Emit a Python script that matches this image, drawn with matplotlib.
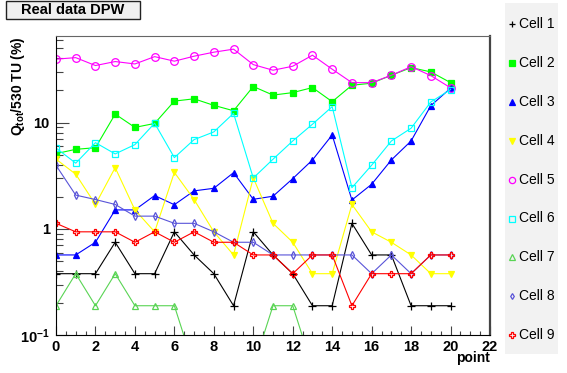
import numpy as np
import matplotlib
matplotlib.use("Agg")
import matplotlib.pyplot as plt
from matplotlib.patches import Rectangle
from matplotlib.ticker import FixedLocator, FixedFormatter, MultipleLocator, LogLocator, NullFormatter

plt.rcParams['font.family'] = ['Liberation Sans', 'DejaVu Sans']
plt.rcParams['mathtext.default'] = 'regular'

# data, Q_tot/530 TU in %
points = np.arange(21)
cell1 = [0.38, 0.38, 0.38, 0.75, 0.38, 0.38, 0.94, 0.57, 0.38, 0.19, 0.94,
         0.57, 0.38, 0.19, 0.19, 1.13, 0.57, 0.57, 0.19, 0.19, 0.19]
cell2 = [5.1, 5.6, 5.8, 12.0, 9.0, 9.8, 15.9, 16.7, 14.5, 12.9, 21.8,
         18.1, 19.1, 21.3, 15.7, 22.4, 23.4, 27.8, 32.8, 29.9, 23.7]
cell3 = [0.57, 0.57, 0.75, 1.51, 1.51, 2.06, 1.69, 2.28, 2.41, 3.38, 1.90,
         2.03, 2.97, 4.45, 7.64, 1.87, 2.63, 4.45, 6.71, 14.4, 21.0]
cell4 = [4.53, 3.27, 1.70, 3.77, 1.51, 0.94, 3.40, 1.89, 0.94, 0.57, 3.02,
         1.13, 0.75, 0.38, 0.38, 1.70, 0.94, 0.75, 0.57, 0.38, 0.38]
cell5 = [39.4, 40.7, 34.3, 37.4, 35.5, 41.6, 37.7, 42.0, 45.8, 48.9, 35.0,
         31.0, 33.8, 42.9, 31.7, 23.7, 23.7, 27.8, 33.5, 27.6, 21.2]
cell6 = [5.77, 4.15, 6.47, 5.07, 6.20, 9.85, 4.68, 6.91, 8.16, 12.2, 3.01,
         4.52, 6.71, 9.64, 14.1, 2.44, 3.97, 6.71, 8.84, 15.6, 20.4]
cell7 = [0.19, 0.38, 0.19, 0.38, 0.19, 0.19, 0.19, 0, 0, 0, 0,
         0.19, 0.19, 0, 0, 0, 0, 0, 0, 0, 0]
cell8 = [3.96, 2.08, 1.89, 1.70, 1.32, 1.32, 1.13, 1.13, 0.94, 0.75, 0.75,
         0.57, 0.57, 0.57, 0.57, 0.57, 0.38, 0.57, 0.38, 0.57, 0.57]
cell9 = [1.13, 0.94, 0.94, 0.94, 0.75, 0.94, 0.75, 0.94, 0.75, 0.75, 0.57,
         0.57, 0.38, 0.57, 0.57, 0.19, 0.38, 0.38, 0.38, 0.57, 0.57]

labels = ['Cell 1', 'Cell 2', 'Cell 3', 'Cell 4', 'Cell 5',
          'Cell 6', 'Cell 7', 'Cell 8', 'Cell 9']
colors = ['black', '#00ff00', '#0000ff', '#ffff00', '#ff00ff',
          '#00ffff', '#59d454', '#5954d8', '#ff0000']
markers = ['+', 's', '^', 'v', 'o', 's', '^', 'd', 'P']
msizes = [5.5, 5, 5, 5, 5.5, 5, 5, 4, 5]
filled = [True, True, True, True, False, False, False, False, False]
series = [cell1, cell2, cell3, cell4, cell5, cell6, cell7, cell8, cell9]

fig = plt.figure(figsize=(5.67, 3.73), dpi=100)
ax = fig.add_axes([56/567, 37.6/373, 434/567, 299.4/373])

for vals, col, mk, ms, fl in zip(series, colors, markers, msizes, filled):
    v = np.array(vals, dtype=float)
    v = np.where(v > 0, v, 0.05)  # empty points fall below the frame, like ROOT
    ax.plot(points, v, color=col, lw=0.8, marker=mk, ms=ms,
            mfc=col if fl else 'none', mec=col, mew=0.9)

ax.set_yscale('log')
ax.set_xlim(0, 22)
ax.set_ylim(0.1, 65)

ax.yaxis.set_major_locator(FixedLocator([0.1, 1, 10]))
ax.yaxis.set_major_formatter(FixedFormatter([r'$10^{-1}$', '1', '10']))
ax.yaxis.set_minor_locator(LogLocator(subs=np.arange(2, 10)))
ax.yaxis.set_minor_formatter(NullFormatter())
ax.xaxis.set_major_locator(MultipleLocator(2))
ax.xaxis.set_minor_locator(MultipleLocator(0.5))

ax.tick_params(axis='y', which='major', direction='in', length=9.4, width=0.8,
               color='#444444', pad=4.5, labelsize=10.5)
ax.tick_params(axis='y', which='minor', direction='in', length=4.7, width=0.8,
               color='#444444')
ax.tick_params(axis='x', which='major', direction='in', length=6.5, width=0.8,
               color='#444444', pad=3, labelsize=10.5)
ax.tick_params(axis='x', which='minor', direction='in', length=3.2, width=0.8,
               color='#444444')
for lab in ax.get_xticklabels() + ax.get_yticklabels():
    lab.set_fontweight('bold')

ax.spines['left'].set_color('black')
ax.spines['bottom'].set_color('black')
ax.spines['top'].set_color('#666666')
ax.spines['right'].set_color('#444444')
ax.spines['right'].set_linewidth(1.6)

# axis titles ROOT style
fig.text(18/567, 1 - 36/373, r'Q$_{tot}$/530 TU (%)', rotation=90,
         ha='center', va='top', fontsize=10, fontweight='bold')
fig.text(490/567, 1 - 358/373, 'point', ha='right', va='center',
         fontsize=10, fontweight='bold')

# title box
fig.patches.append(Rectangle((6/567, 1 - 19/373), 134/567, 18/373,
                             transform=fig.transFigure, facecolor='#f0f0f0',
                             edgecolor='#222222', lw=1))
fig.text(73/567, 1 - 10/373, 'Real data DPW', ha='center', va='center',
         fontsize=10.5, fontweight='bold')

# legend pane on the right
lax = fig.add_axes([505/567, 1 - 354/373, 53/567, 351/373])
lax.set_facecolor('#f2f2f2')
lax.set_xlim(505, 558)
lax.set_ylim(354, 3)
lax.set_xticks([])
lax.set_yticks([])
for s in lax.spines.values():
    s.set_visible(False)
for i in range(len(labels)):
    yc = 24 + i * 38.9
    lax.plot([512], [yc], marker=markers[i], ms=msizes[i] - 1, color=colors[i],
             mfc=colors[i] if filled[i] else 'none', mec=colors[i], mew=0.9)
    lax.text(519, yc, labels[i], va='center', ha='left', fontsize=10)

fig.savefig('out.png', dpi=100)
